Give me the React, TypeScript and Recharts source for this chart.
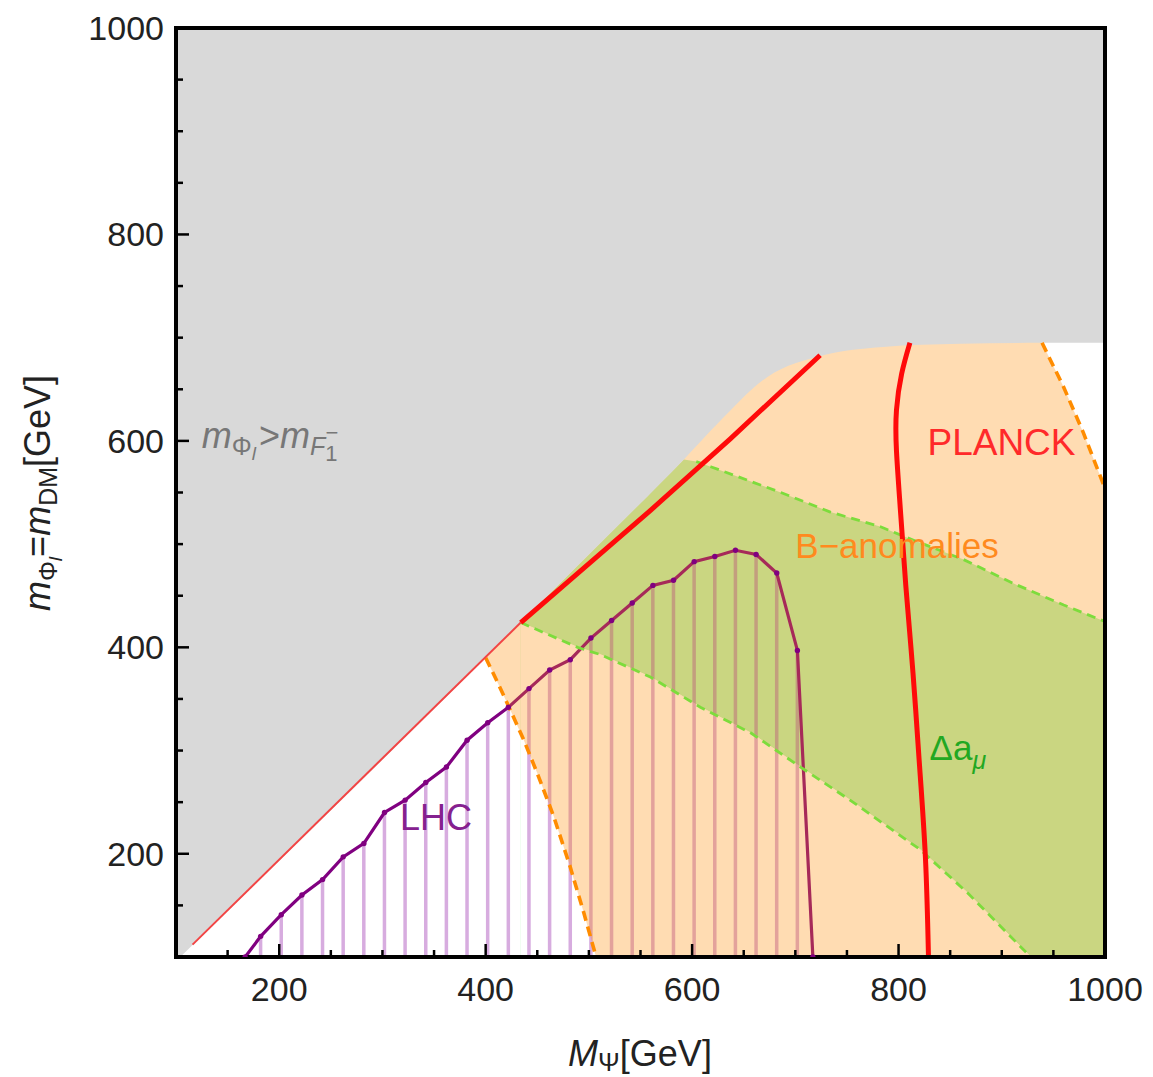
import React from "react";
import {
  Area,
  Bar,
  ComposedChart,
  Line,
  ReferenceArea,
  ReferenceDot,
  XAxis,
  YAxis,
} from "recharts";

// axis ticks (minor every 50, labelled every 200)
const xTicks = [150, 200, 250, 300, 350, 400, 450, 500, 550, 600, 650, 700, 750, 800, 850, 900, 950, 1000];
const yTicks = [150, 200, 250, 300, 350, 400, 450, 500, 550, 600, 650, 700, 750, 800, 850, 900, 950, 1000];
const majorTicks = [200, 400, 600, 800, 1000];

// excluded region boundary m_Phi > m_F1 (gray above)
const grayX = [100, 398, 434, 500, 592, 625, 673, 727, 785, 860, 937, 1000];
const grayY = [96, 388, 424, 490, 582, 617, 662, 683, 691, 694, 695, 695];

// B-anomalies allowed region (peach); upper edge runs under the gray region
const bX = [400, 412, 424, 437, 450, 466, 482, 495, 507, 785, 939, 960, 979, 1000];
const bLow = [390, 365, 339, 310, 278, 236, 187, 143, 100, 100, 100, 100, 100, 100];
const bHigh = [390, 1000, 1000, 1000, 1000, 1000, 1000, 1000, 1000, 1000, 695, 652, 608, 554];
const bLeftX = [400, 412, 424, 437, 450, 466, 482, 495, 507];
const bLeftY = [390, 365, 339, 310, 278, 236, 187, 143, 100];
const bRightX = [939, 960, 979, 1000];
const bRightY = [695, 652, 608, 554];

// Delta a_mu band (green)
const gUpX = [434, 500, 592, 604, 618, 686, 734, 782, 814, 863, 911, 960, 1000];
const gUpY = [424, 490, 582, 580, 575, 550, 531, 517, 504, 485, 462, 441, 425];
const gLowX = [434, 489, 511, 560, 608, 657, 705, 753, 821, 867, 928];
const gLowY = [424, 400, 393, 371, 342, 317, 284, 252, 204, 162, 100];

// PLANCK relic density contours
const planckDiagThinX = [116, 434];
const planckDiagThinY = [112, 424];
const planckDiagX = [434, 560, 637, 724];
const planckDiagY = [424, 533, 602, 683];
const planckVertX = [811, 803, 798, 798, 802, 807, 814, 820, 826, 829];
const planckVertY = [695, 665, 630, 590, 530, 460, 375, 290, 197, 100];

// LHC exclusion curve
const lhcX = [167, 182, 202, 222, 242, 262, 282, 302, 322, 342, 362, 382, 402, 422, 442, 462, 482, 502, 522, 542, 562, 582, 602, 622, 642, 662, 682, 702, 717];
const lhcY = [100, 120, 141, 160, 175, 197, 210, 240, 252, 269, 284, 310, 327, 342, 360, 378, 388, 409, 426, 443, 460, 465, 483, 488, 494, 490, 472, 397, 100];

const zip = (xs: number[], ys: number[]) => xs.map((x, i) => ({ x, y: ys[i] }));

const lhcData = zip(lhcX, lhcY);
const grayData = zip(grayX, grayY);
const bData = bX.map((x, i) => ({ x, range: [bLow[i], bHigh[i]] }));
const gUpData = zip(gUpX, gUpY);
const gLowData = zip(gLowX, gLowY);

const FONT = "'Liberation Sans', Arial, sans-serif";

const XTick = (props: any) => {
  const { x, y, payload } = props;
  const major = majorTicks.includes(payload.value);
  return (
    <g>
      <line x1={x} x2={x} y1={y} y2={y - (major ? 13 : 7)} stroke="#000" strokeWidth={2.5} />
      {major && (
        <text x={x} y={y + 44} textAnchor="middle" fontSize={34} fontFamily={FONT} fill="#222">
          {payload.value}
        </text>
      )}
    </g>
  );
};

const YTick = (props: any) => {
  const { x, y, payload } = props;
  const major = majorTicks.includes(payload.value);
  return (
    <g>
      <line x1={x} x2={x + (major ? 13 : 7)} y1={y} y2={y} stroke="#000" strokeWidth={2.5} />
      {major && (
        <text x={x - 12} y={y + 12} textAnchor="end" fontSize={34} fontFamily={FONT} fill="#222">
          {payload.value}
        </text>
      )}
    </g>
  );
};

const XTitle = () => (
  <text x={640} y={1066} textAnchor="middle" fontSize={36} fontFamily={FONT} fill="#222">
    <tspan fontStyle="italic">M</tspan>
    <tspan fontSize={26} dy={5}>Ψ</tspan>
    <tspan dy={-5}>[GeV]</tspan>
  </text>
);

const YTitle = () => (
  <text
    x={50}
    y={493}
    transform="rotate(-90 50 493)"
    textAnchor="middle"
    fontSize={36}
    fontFamily={FONT}
    fill="#222"
  >
    <tspan fontStyle="italic">m</tspan>
    <tspan fontSize={25} dy={7}>Φ</tspan>
    <tspan fontSize={19} dy={5} fontStyle="italic">l</tspan>
    <tspan dy={-12}>=</tspan>
    <tspan fontStyle="italic">m</tspan>
    <tspan fontSize={25} dy={7}>DM</tspan>
    <tspan dy={-7}>[GeV]</tspan>
  </text>
);

// thin vertical hatch stroke centred on each LHC point
const HatchBar = (p: any) => {
  if (!p.height || p.height <= 0) return <g />;
  return <rect x={p.x + p.width / 2 - 1.75} y={p.y} width={3.5} height={p.height} fill="#9b30b0" fillOpacity={0.4} />;
};

const textAt = (render: (cx: number, cy: number) => React.ReactElement) => (p: any) => render(p.cx, p.cy);

export default function App() {
  return (
    <div style={{ position: "absolute", left: 0, top: 0, background: "#fff" }}>
      <ComposedChart
        width={1153}
        height={1077}
        data={lhcData}
        margin={{ top: 28, right: 48, bottom: 60, left: 76 }}
      >
        <XAxis
          type="number"
          dataKey="x"
          domain={[100, 1000]}
          ticks={xTicks}
          interval={0}
          allowDataOverflow
          axisLine={false}
          tickLine={false}
          tickSize={0}
          tickMargin={0}
          height={60}
          tick={<XTick />}
          label={<XTitle />}
        />
        <YAxis
          type="number"
          domain={[100, 1000]}
          ticks={yTicks}
          interval={0}
          allowDataOverflow
          axisLine={false}
          tickLine={false}
          tickSize={0}
          tickMargin={0}
          width={100}
          tick={<YTick />}
          label={<YTitle />}
        />

        {/* Delta a_mu band: fill under upper edge, then clear below lower edge */}
        <Area data={gUpData} dataKey="y" type="linear" fill="#b3f7b9" fillOpacity={1} stroke="none" isAnimationActive={false} zIndex={101} />
        <Area data={gLowData} dataKey="y" type="linear" fill="#ffffff" fillOpacity={1} stroke="#ffffff" strokeWidth={1} isAnimationActive={false} zIndex={102} />

        {/* LHC hatching and curve */}
        <Bar dataKey="y" barSize={4} shape={HatchBar} isAnimationActive={false} zIndex={103} />
        <Line
          dataKey="y"
          type="linear"
          stroke="#800080"
          strokeWidth={3.2}
          dot={{ r: 2.7, fill: "#800080", stroke: "none" }}
          isAnimationActive={false}
          zIndex={104}
        />

        {/* B-anomalies region */}
        <Area data={bData} dataKey="range" type="linear" fill="#ff8c00" fillOpacity={0.3} stroke="none" isAnimationActive={false} zIndex={105} />

        {/* excluded region */}
        <Area data={grayData} dataKey="y" type="monotone" baseValue="dataMax" fill="#d9d9d9" fillOpacity={1} stroke="none" isAnimationActive={false} zIndex={106} />

        {/* boundaries */}
        <Line data={zip(bLeftX, bLeftY)} dataKey="y" type="linear" stroke="#ff8c00" strokeWidth={3.6} strokeDasharray="10 6" dot={false} isAnimationActive={false} zIndex={107} />
        <Line data={zip(bRightX, bRightY)} dataKey="y" type="linear" stroke="#ff8c00" strokeWidth={3.6} strokeDasharray="10 6" dot={false} isAnimationActive={false} zIndex={107} />
        <Line data={gUpData.slice(3)} dataKey="y" type="linear" stroke="#7ddc3c" strokeWidth={2.8} strokeDasharray="9 6" dot={false} isAnimationActive={false} zIndex={107} />
        <Line data={gLowData} dataKey="y" type="linear" stroke="#7ddc3c" strokeWidth={2.8} strokeDasharray="9 6" dot={false} isAnimationActive={false} zIndex={107} />

        {/* PLANCK */}
        <Line data={zip(planckDiagThinX, planckDiagThinY)} dataKey="y" type="linear" stroke="#f24444" strokeWidth={2} dot={false} isAnimationActive={false} zIndex={108} />
        <Line data={zip(planckDiagX, planckDiagY)} dataKey="y" type="linear" stroke="#ff0a0a" strokeWidth={5} dot={false} isAnimationActive={false} zIndex={108} />
        <Line data={zip(planckVertX, planckVertY)} dataKey="y" type="natural" stroke="#ff0a0a" strokeWidth={5} dot={false} isAnimationActive={false} zIndex={108} />

        {/* frame */}
        <ReferenceArea x1={100} x2={1000} y1={100} y2={1000} fill="none" stroke="#000" strokeWidth={4} ifOverflow="visible" zIndex={109} />

        {/* annotations */}
        <ReferenceDot
          x={125}
          y={593}
          r={0}
          zIndex={110}
          shape={textAt((cx, cy) => (
            <text x={cx} y={cy} fontSize={36} fontFamily={FONT} fill="#777">
              <tspan fontStyle="italic">m</tspan>
              <tspan fontSize={25} dy={7}>Φ</tspan>
              <tspan fontSize={19} dy={5} fontStyle="italic">l</tspan>
              <tspan dy={-12} dx={3}>&gt;</tspan>
              <tspan fontStyle="italic">m</tspan>
              <tspan fontSize={25} dy={7} fontStyle="italic">F</tspan>
              <tspan fontSize={22} dy={6}>1</tspan>
              <tspan fontSize={22} dy={-21} dx={-12}>−</tspan>
            </text>
          ))}
        />
        <ReferenceDot
          x={828}
          y={586}
          r={0}
          zIndex={110}
          shape={textAt((cx, cy) => (
            <text x={cx} y={cy} fontSize={37} fontFamily={FONT} fill="#ff2a2a">
              PLANCK
            </text>
          ))}
        />
        <ReferenceDot
          x={700}
          y={487}
          r={0}
          zIndex={110}
          shape={textAt((cx, cy) => (
            <text x={cx} y={cy} fontSize={35} fontFamily={FONT} fill="#ff8a1e">
              B−anomalies
            </text>
          ))}
        />
        <ReferenceDot
          x={830}
          y={291}
          r={0}
          zIndex={110}
          shape={textAt((cx, cy) => (
            <text x={cx} y={cy} fontSize={35} fontFamily={FONT} fill="#22a822">
              <tspan>Δa</tspan>
              <tspan fontSize={25} dy={9} fontStyle="italic">μ</tspan>
            </text>
          ))}
        />
        <ReferenceDot
          x={317}
          y={223}
          r={0}
          zIndex={110}
          shape={textAt((cx, cy) => (
            <text x={cx} y={cy} fontSize={36} fontFamily={FONT} fill="#85208f">
              LHC
            </text>
          ))}
        />
      </ComposedChart>
    </div>
  );
}
